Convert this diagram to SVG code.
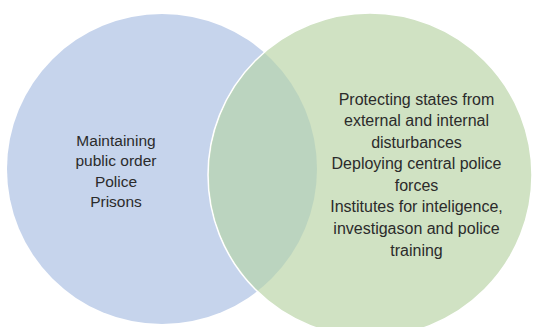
<svg xmlns="http://www.w3.org/2000/svg" width="535" height="327" viewBox="0 0 535 327">
<style>
.lbl{font-family:"Liberation Sans",Arial,sans-serif;fill:#2b2b2b;text-anchor:middle}
</style>
<defs>
<clipPath id="blueClip"><circle cx="162" cy="169" r="155"/></clipPath>
</defs>
<rect width="535" height="327" fill="#ffffff"/>
<g id="node-left">
<circle cx="162" cy="169" r="155" fill="#c6d4ec"/>
</g>
<g id="node-right">
<circle cx="370" cy="175" r="162" fill="#d0e2c3" stroke="#ffffff" stroke-width="1.5"/>
<circle cx="370" cy="175" r="161" fill="#bbd4bf" clip-path="url(#blueClip)"/>
</g>
<g id="connectors"></g>
<g id="text-left" class="lbl" font-size="15.5">
<text x="116" y="145.5">Maintaining</text>
<text x="116" y="166">public order</text>
<text x="116" y="186.5">Police</text>
<text x="116" y="207">Prisons</text>
</g>
<g id="text-right" class="lbl" font-size="16">
<text x="416.5" y="104.5">Protecting states from</text>
<text x="416.5" y="126">external and internal</text>
<text x="416.5" y="147.5">disturbances</text>
<text x="416.5" y="169">Deploying central police</text>
<text x="416.5" y="190.5">forces</text>
<text x="416.5" y="212">Institutes for inteligence,</text>
<text x="416.5" y="234">investigason and police</text>
<text x="416.5" y="256">training</text>
</g>
</svg>
